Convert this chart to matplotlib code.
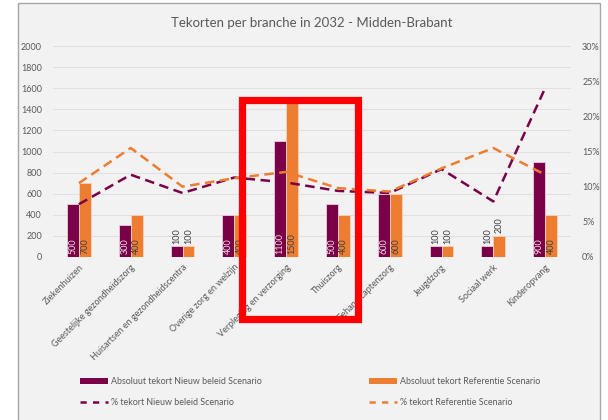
import numpy as np
import matplotlib
matplotlib.use('Agg')
import matplotlib.pyplot as plt
from matplotlib.patches import Rectangle, Patch
from matplotlib.lines import Line2D
from matplotlib.ticker import FuncFormatter

# Data
categories = ['Ziekenhuizen', 'Geestelijke gezondheidszorg', 'Huisartsen en gezondheidscentra',
              'Overige zorg en welzijn', 'Verpleging en verzorging', 'Thuiszorg',
              'Gehandicaptenzorg', 'Jeugdzorg', 'Sociaal werk', 'Kinderopvang']
abs_nieuw = [500, 300, 100, 400, 1100, 500, 600, 100, 100, 900]
abs_ref = [700, 400, 100, 400, 1500, 400, 600, 100, 200, 400]
pct_nieuw = [0.075, 0.117, 0.091, 0.113, 0.106, 0.094, 0.091, 0.125, 0.079, 0.240]
pct_ref = [0.105, 0.155, 0.100, 0.112, 0.121, 0.098, 0.093, 0.126, 0.155, 0.117]

TITLE = 'Tekorten per branche in 2032 - Midden-Brabant'
LEGEND_NIEUW_ABS = 'Absoluut tekort Nieuw beleid Scenario'
LEGEND_REF_ABS = 'Absoluut tekort Referentie Scenario'
LEGEND_NIEUW_PCT = '% tekort Nieuw beleid Scenario'
LEGEND_REF_PCT = '% tekort Referentie Scenario'

# Style
PURPLE = '#7a0047'
ORANGE = '#ed7d31'
BG = '#f2f2f2'
FRAME = '#a6a6a6'
GRID = '#e0e0e0'
TEXT = '#595959'
DARK = '#404040'
BAR_W = 0.23

plt.rcParams['font.family'] = ['Lato', 'DejaVu Sans']

W, H = 608, 420
fig = plt.figure(figsize=(W / 100, H / 100), dpi=100)
fig.patch.set_facecolor('white')

# chart frame
fig.patches.append(Rectangle((18 / W, -0.02), 582 / W, 1 - 3 / H + 0.02, transform=fig.transFigure,
                             facecolor=BG, edgecolor=FRAME, linewidth=1.0, zorder=-5))

ax = fig.add_axes([53 / W, 1 - 257 / H, 518 / W, 211 / H])
ax.set_facecolor(BG)
ax2 = ax.twinx()

x = np.arange(len(categories))
bars_n = ax.bar(x - BAR_W / 2, abs_nieuw, BAR_W, color=PURPLE, edgecolor='#e8cfe0', linewidth=0.6, zorder=2)
bars_r = ax.bar(x + BAR_W / 2, abs_ref, BAR_W, color=ORANGE, edgecolor='#f6d2bb', linewidth=0.6, zorder=2)

ax.set_ylim(0, 2000)
ax.set_yticks(np.arange(0, 2001, 200))
ax.set_xlim(-0.5, len(categories) - 0.5)
ax.yaxis.grid(True, color=GRID, linewidth=0.8, zorder=0)
ax.set_axisbelow(True)
for s in ax.spines.values():
    s.set_visible(False)
for s in ax2.spines.values():
    s.set_visible(False)
ax.tick_params(axis='both', length=0, labelsize=6.5, colors=TEXT)
ax.tick_params(axis='y', pad=8)
ax.set_xticks(x)
ax.set_xticklabels(categories, rotation=45, ha='right', rotation_mode='anchor', fontsize=6.5, color=TEXT)
ax.tick_params(axis='x', pad=4)

# bar value labels
for bars, vals, inner_col in ((bars_n, abs_nieuw, '#f0e0ea'), (bars_r, abs_ref, DARK)):
    for b, v in zip(bars, vals):
        cx = b.get_x() + b.get_width() / 2
        if v >= 300:
            ax.text(cx, 25, str(v), rotation=90, ha='center', va='bottom', fontsize=6.5,
                    color=inner_col, zorder=4)
        else:
            ax.text(cx, v + 25, str(v), rotation=90, ha='center', va='bottom', fontsize=6.5,
                    color=DARK, zorder=4)

# percentage lines
ax2.plot(x, pct_nieuw, color=PURPLE, linewidth=1.8, dashes=(3.8, 2.2), zorder=3)
ax2.plot(x, pct_ref, color=ORANGE, linewidth=1.8, dashes=(3.8, 2.2), zorder=3)
ax2.set_ylim(0, 0.30)
ax2.set_yticks(np.arange(0, 0.301, 0.05))
ax2.yaxis.set_major_formatter(FuncFormatter(lambda v, p: f'{v * 100:.0f}%'))
ax2.tick_params(axis='y', length=0, labelsize=6.5, colors=TEXT, pad=8)

fig.text(312 / W, 1 - 23 / H, TITLE, ha='center', va='center', fontsize=9.5, color=TEXT)

# legends
h_n_abs = Patch(facecolor=PURPLE, edgecolor='none')
h_r_abs = Patch(facecolor=ORANGE, edgecolor='none')
h_n_pct = Line2D([], [], color=PURPLE, linewidth=1.8, dashes=(2.5, 2.5))
h_r_pct = Line2D([], [], color=ORANGE, linewidth=1.8, dashes=(2.5, 2.5))
for xpos, hs, ls in ((80 / W, [h_n_abs, h_n_pct], [LEGEND_NIEUW_ABS, LEGEND_NIEUW_PCT]),
                     (369 / W, [h_r_abs, h_r_pct], [LEGEND_REF_ABS, LEGEND_REF_PCT])):
    fig.legend(hs, ls, loc='upper left', bbox_to_anchor=(xpos, 1 - 377 / H), frameon=False,
               fontsize=6.4, labelcolor=TEXT, handlelength=3.2, handleheight=0.75,
               handletextpad=0.3, labelspacing=1.4, borderaxespad=0, borderpad=0)

# red highlight box
fig.patches.append(Rectangle((242 / W, 1 - 318.5 / H), 116 / W, 218.5 / H, transform=fig.transFigure,
                             facecolor='none', edgecolor='#ff0000', linewidth=5.2,
                             joinstyle='miter', zorder=10))

fig.savefig('out.png', dpi=100)
